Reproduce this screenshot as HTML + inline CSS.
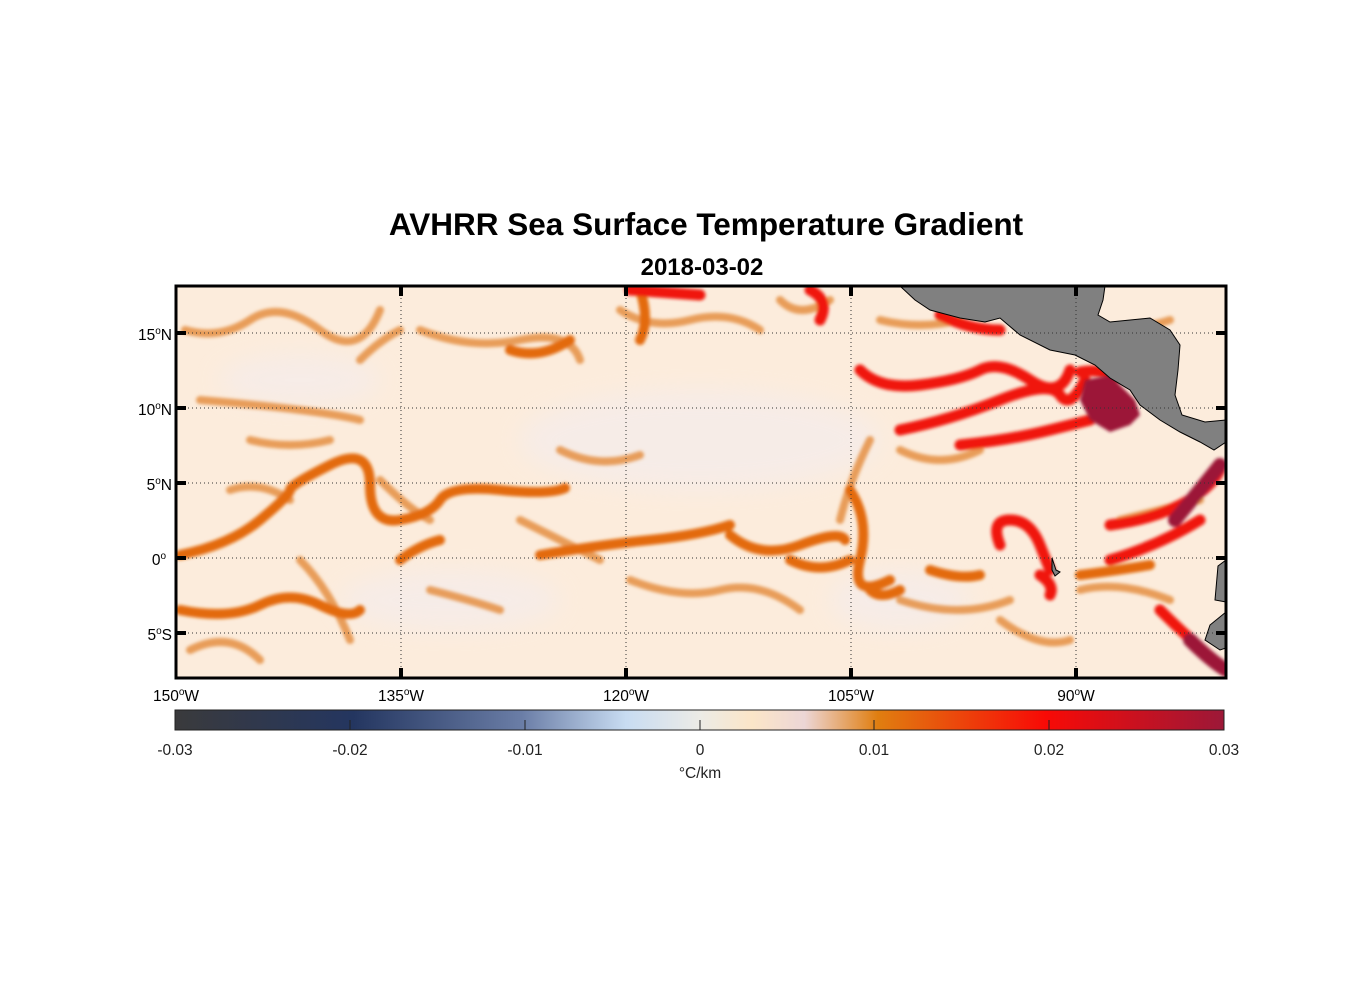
<!DOCTYPE html>
<html><head><style>
body{margin:0;background:#fff;width:1356px;height:1000px;overflow:hidden;font-family:"Liberation Sans",Arial,sans-serif}
</style></head><body>
<svg width="1356" height="1000" xmlns="http://www.w3.org/2000/svg" style="position:absolute;left:0;top:0">
<defs>
<clipPath id="c"><rect x="176" y="286" width="1050" height="392"/></clipPath>
<filter id="b"><feGaussianBlur stdDeviation="1.6"/></filter>
<filter id="b2"><feGaussianBlur stdDeviation="12"/></filter>
<linearGradient id="cb" x1="0" x2="1">
<stop offset="0" stop-color="#3a3a3c"/><stop offset="0.17" stop-color="#243660"/>
<stop offset="0.33" stop-color="#6a7da6"/><stop offset="0.43" stop-color="#c8dcf2"/>
<stop offset="0.5" stop-color="#ecebe6"/><stop offset="0.55" stop-color="#fbe6c8"/>
<stop offset="0.6" stop-color="#ecd6d6"/><stop offset="0.67" stop-color="#e07e10"/>
<stop offset="0.83" stop-color="#f80a06"/><stop offset="1" stop-color="#9c1838"/>
</linearGradient>
</defs>
<text x="706" y="235" text-anchor="middle" font-size="31.5" font-weight="bold">AVHRR Sea Surface Temperature Gradient</text>
<text x="702" y="275" text-anchor="middle" font-size="24" font-weight="bold">2018-03-02</text>
<g clip-path="url(#c)">
<rect x="176" y="286" width="1050" height="392" fill="#fcecdc"/>
<g filter="url(#b2)" fill="#f4ecec" opacity="0.7">
<ellipse cx="700" cy="440" rx="180" ry="50"/><ellipse cx="450" cy="600" rx="110" ry="30"/>
<ellipse cx="300" cy="380" rx="80" ry="25"/><ellipse cx="900" cy="600" rx="70" ry="30"/>
</g>
<g filter="url(#b)" fill="none" stroke-linecap="round" stroke-linejoin="round">
<g stroke="#e48a3a" stroke-width="8" opacity="0.8">
<path d="M185,330 Q220,340 250,320 T320,330 T380,310"/>
<path d="M200,400 Q260,405 300,410 T360,420"/>
<path d="M420,330 Q470,350 520,340 T580,360"/>
<path d="M230,490 Q260,480 290,500"/>
<path d="M380,480 Q410,510 430,520"/>
<path d="M190,650 Q230,630 260,660"/>
<path d="M300,560 Q330,590 350,640"/>
<path d="M430,590 Q470,600 500,610"/>
<path d="M520,520 Q560,540 600,560"/>
<path d="M630,580 Q680,600 720,590 T800,610"/>
<path d="M840,520 Q850,480 870,440"/>
<path d="M900,600 Q960,620 1010,600"/>
<path d="M1000,620 Q1040,650 1070,640"/>
<path d="M1080,590 Q1120,580 1170,600"/>
<path d="M360,360 Q380,340 400,330"/>
<path d="M620,310 Q650,330 690,320 T760,330"/>
<path d="M780,300 Q800,320 830,300"/>
<path d="M880,320 Q920,330 960,320"/>
<path d="M900,450 Q940,470 980,450"/>
<path d="M1100,330 Q1140,330 1170,320"/>
<path d="M1120,520 Q1160,510 1200,500"/>
<path d="M560,450 Q600,470 640,455"/>
<path d="M250,440 Q290,450 330,440"/>
</g>
<g stroke="#e36a10" stroke-width="10">
<path d="M180,555 Q230,545 260,520 T290,490 T330,465 T370,485 T400,520 T440,500 T500,490 T565,488"/>
<path d="M400,560 Q420,545 440,540"/>
<path d="M540,555 Q600,545 650,540 T730,525"/>
<path d="M730,535 Q760,560 800,545 T845,540"/>
<path d="M850,490 Q870,520 860,560 T890,580"/>
<path d="M640,290 Q650,320 640,340"/>
<path d="M510,350 Q540,360 570,340"/>
<path d="M180,610 Q230,620 260,605 T320,605 T360,610"/>
<path d="M870,590 Q880,600 900,590"/>
<path d="M930,570 Q960,580 980,575"/>
<path d="M790,560 Q820,575 850,560"/>
<path d="M1080,575 Q1120,570 1150,565"/>
</g>
<g stroke="#f01808" stroke-width="11">
<path d="M860,370 Q880,390 920,385 T980,370 T1030,380 T1070,370"/>
<path d="M900,430 Q950,420 1000,400 T1060,395 T1085,380"/>
<path d="M960,445 Q1010,440 1050,430 T1090,420"/>
<path d="M1000,545 Q990,520 1010,520 T1040,545 T1050,570"/>
<path d="M1040,575 Q1055,585 1050,595"/>
<path d="M1110,525 Q1150,520 1180,505 T1220,470"/>
<path d="M1110,560 Q1160,545 1200,520"/>
<path d="M940,315 Q970,330 1000,330"/>
<path d="M1160,610 Q1190,640 1226,670"/>
<path d="M630,290 L700,295"/>
<path d="M810,290 Q830,300 820,320"/>
<path d="M1080,372 Q1100,368 1115,378"/>
</g>
<g stroke="#9c1838" stroke-width="14">
<path d="M1175,520 Q1200,490 1220,465"/>
<path d="M1190,640 Q1210,660 1226,670"/>
</g>
</g>
<path d="M1085,380 L1110,375 L1120,385 L1135,400 L1140,415 L1130,425 L1110,432 L1090,420 L1080,400 Z" fill="#9c1838" filter="url(#b)"/>
<path d="M900,286 L915,300 L930,310 L960,318 L985,322 L1000,318 L1020,335 L1050,350 L1075,355 L1095,365 L1110,378 L1130,390 L1140,405 L1160,420 L1180,432 L1200,442 L1214,450 L1226,442 L1226,420 L1205,422 L1182,415 L1175,395 L1178,370 L1180,345 L1170,330 L1150,318 L1110,322 L1098,315 L1103,300 L1105,286 Z" fill="#808080" stroke="#000" stroke-width="1"/>
<path d="M1226,560 L1218,566 L1215,600 L1226,602 Z M1226,612 L1210,625 L1205,640 L1220,650 L1226,648 Z" fill="#808080" stroke="#000" stroke-width="1"/>
<path d="M1052,558 L1056,570 L1060,572 L1055,576 L1052,570 Z" fill="#808080" stroke="#000"/>
<g stroke="#333" stroke-width="1" stroke-dasharray="1,3">
<line x1="401" y1="286" x2="401" y2="678"/><line x1="626" y1="286" x2="626" y2="678"/>
<line x1="851" y1="286" x2="851" y2="678"/><line x1="1076" y1="286" x2="1076" y2="678"/>
<line x1="176" y1="333" x2="1226" y2="333"/><line x1="176" y1="408" x2="1226" y2="408"/>
<line x1="176" y1="483" x2="1226" y2="483"/><line x1="176" y1="558" x2="1226" y2="558"/>
<line x1="176" y1="633" x2="1226" y2="633"/>
</g>
</g>
<rect x="176" y="286" width="1050" height="392" fill="none" stroke="#000" stroke-width="3"/>
<g stroke="#000" stroke-width="4">
<line x1="401" y1="286" x2="401" y2="296"/><line x1="626" y1="286" x2="626" y2="296"/><line x1="851" y1="286" x2="851" y2="296"/><line x1="1076" y1="286" x2="1076" y2="296"/>
<line x1="401" y1="678" x2="401" y2="668"/><line x1="626" y1="678" x2="626" y2="668"/><line x1="851" y1="678" x2="851" y2="668"/><line x1="1076" y1="678" x2="1076" y2="668"/>
<line x1="176" y1="333" x2="186" y2="333"/><line x1="176" y1="408" x2="186" y2="408"/><line x1="176" y1="483" x2="186" y2="483"/><line x1="176" y1="558" x2="186" y2="558"/><line x1="176" y1="633" x2="186" y2="633"/>
<line x1="1226" y1="333" x2="1216" y2="333"/><line x1="1226" y1="408" x2="1216" y2="408"/><line x1="1226" y1="483" x2="1216" y2="483"/><line x1="1226" y1="558" x2="1216" y2="558"/><line x1="1226" y1="633" x2="1216" y2="633"/>
</g>
<g font-size="15.5" text-anchor="end">
<text x="172" y="340">15<tspan dy="-6" font-size="10">o</tspan><tspan dy="6">N</tspan></text>
<text x="172" y="415">10<tspan dy="-6" font-size="10">o</tspan><tspan dy="6">N</tspan></text>
<text x="172" y="490">5<tspan dy="-6" font-size="10">o</tspan><tspan dy="6">N</tspan></text>
<text x="166" y="565">0<tspan dy="-6" font-size="10">o</tspan></text>
<text x="172" y="640">5<tspan dy="-6" font-size="10">o</tspan><tspan dy="6">S</tspan></text>
</g>
<g font-size="15.5" text-anchor="middle">
<text x="176" y="701">150<tspan dy="-6" font-size="10">o</tspan><tspan dy="6">W</tspan></text>
<text x="401" y="701">135<tspan dy="-6" font-size="10">o</tspan><tspan dy="6">W</tspan></text>
<text x="626" y="701">120<tspan dy="-6" font-size="10">o</tspan><tspan dy="6">W</tspan></text>
<text x="851" y="701">105<tspan dy="-6" font-size="10">o</tspan><tspan dy="6">W</tspan></text>
<text x="1076" y="701">90<tspan dy="-6" font-size="10">o</tspan><tspan dy="6">W</tspan></text>
</g>
<rect x="175" y="710" width="1049" height="20" fill="url(#cb)" stroke="#222" stroke-width="1"/>
<g stroke="#222" stroke-width="1">
<line x1="350" y1="720" x2="350" y2="730"/><line x1="525" y1="720" x2="525" y2="730"/><line x1="700" y1="720" x2="700" y2="730"/><line x1="874" y1="720" x2="874" y2="730"/><line x1="1049" y1="720" x2="1049" y2="730"/>
</g>
<g font-size="15.5" text-anchor="middle" fill="#222">
<text x="175" y="755">-0.03</text><text x="350" y="755">-0.02</text><text x="525" y="755">-0.01</text><text x="700" y="755">0</text><text x="874" y="755">0.01</text><text x="1049" y="755">0.02</text><text x="1224" y="755">0.03</text>
<text x="700" y="778">°C/km</text>
</g>
</svg>
</body></html>
